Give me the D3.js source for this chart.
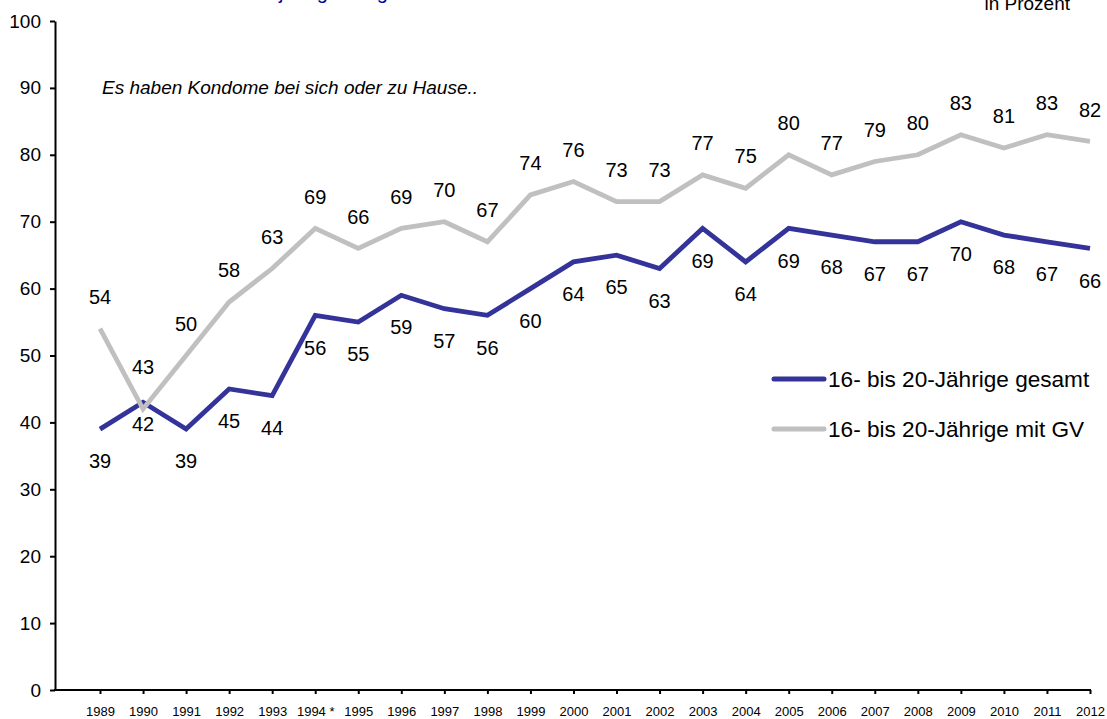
<!DOCTYPE html>
<html>
<head>
<meta charset="utf-8">
<script src="https://cdn.jsdelivr.net/npm/d3@7"></script>
<style>
  body { margin: 0; background: #fff; }
  svg { display: block; font-family: Arial, "Liberation Sans", sans-serif; }
</style>
</head>
<body>
<svg id="chart" width="1107" height="719"></svg>
<script>
// Kondombesitz 16- bis 20-Jaehrige, 1989-2012
var years = ["1989", "1990", "1991", "1992", "1993", "1994", "1995", "1996", "1997", "1998", "1999", "2000",
             "2001", "2002", "2003", "2004", "2005", "2006", "2007", "2008", "2009", "2010", "2011", "2012"];
var yearLabels = ["1989", "1990", "1991", "1992", "1993", "1994 *", "1995", "1996", "1997", "1998", "1999", "2000",
                  "2001", "2002", "2003", "2004", "2005", "2006", "2007", "2008", "2009", "2010", "2011", "2012"];
var gesamt = [39, 43, 39, 45, 44, 56, 55, 59, 57, 56, 60, 64, 65, 63, 69, 64, 69, 68, 67, 67, 70, 68, 67, 66];
var mitGV  = [54, 42, 50, 58, 63, 69, 66, 69, 70, 67, 74, 76, 73, 73, 77, 75, 80, 77, 79, 80, 83, 81, 83, 82];
var yTicks = [0, 10, 20, 30, 40, 50, 60, 70, 80, 90, 100];

var series = [
  { name: "16- bis 20-Jährige gesamt", values: gesamt, color: "#333399" },
  { name: "16- bis 20-Jährige mit GV", values: mitGV, color: "#c0c0c0" }
];

var svg = d3.select("#chart");

var x = d3.scalePoint().domain(years).range([100, 1090]);
var y = d3.scaleLinear().domain([0, 100]).range([690, 21]);

// title sits above the visible area, only descenders show (as in the original)
var title = svg.append("text")
    .attr("x", 0)
    .attr("y", -1)
    .style("font-size", "20px")
    .style("fill", "#0000a0")
    .text("Kondombesitz bei 16- bis 20-jährigen Jugendlichen");
var jPos = title.node().getStartPositionOfChar(title.text().indexOf("j")).x;
title.attr("x", 279 - jPos);

svg.append("text")
    .attr("x", 1070)
    .attr("y", 10)
    .attr("text-anchor", "end")
    .style("font-size", "19px")
    .style("fill", "#000")
    .text("in Prozent");

svg.append("text")
    .attr("x", 102)
    .attr("y", 94)
    .style("font-size", "19px")
    .style("font-style", "italic")
    .style("fill", "#000")
    .text("Es haben Kondome bei sich oder zu Hause..");

// axes
var yAxis = svg.append("g")
    .attr("transform", "translate(55,0)")
    .call(d3.axisLeft(y).tickValues(yTicks).tickSize(5).tickSizeOuter(0).tickPadding(9));
yAxis.selectAll("text").style("font-size", "19px").style("fill", "#000").attr("font-family", null);
yAxis.select(".domain").attr("stroke-width", 2);
yAxis.selectAll(".tick line").attr("stroke-width", 2);

var xAxis = svg.append("g")
    .attr("transform", "translate(0,690)")
    .call(d3.axisBottom(x).tickFormat(function(d, i) { return yearLabels[i]; }).tickSize(4).tickPadding(13));
xAxis.select(".domain").remove();
xAxis.selectAll("text").style("font-size", "13px").style("fill", "#000").attr("font-family", null);
xAxis.selectAll(".tick line").attr("stroke-width", 2);
svg.append("line")
    .attr("x1", 54).attr("x2", x("2012") + 1)
    .attr("y1", 690).attr("y2", 690)
    .attr("stroke", "#000")
    .attr("stroke-width", 2);

// lines
var line = d3.line()
    .x(function(d, i) { return x(years[i]); })
    .y(function(d) { return y(d); });

svg.selectAll("path.series")
    .data(series)
    .enter().append("path")
    .attr("class", "series")
    .attr("d", function(s) { return line(s.values); })
    .attr("fill", "none")
    .attr("stroke", function(s) { return s.color; })
    .attr("stroke-width", 4.8);

// value labels: gesamt below, mit GV above (1990 swapped)
function labelOffset(si, i) {
  if (years[i] === "1990") return si === 0 ? -36 : 15;
  return si === 0 ? 32 : -32;
}

series.forEach(function(s, si) {
  svg.append("g").selectAll("text")
      .data(s.values)
      .enter().append("text")
      .attr("x", function(d, i) { return x(years[i]); })
      .attr("y", function(d, i) { return y(d) + labelOffset(si, i); })
      .attr("dy", "0.36em")
      .attr("text-anchor", "middle")
      .style("font-size", "20px")
      .style("fill", "#000")
      .text(function(d) { return d; });
});

// legend
var legend = svg.append("g")
    .selectAll("g")
    .data(series)
    .enter().append("g")
    .attr("transform", function(d, i) { return "translate(774," + (379 + i * 50) + ")"; });

legend.append("line")
    .attr("x1", 0).attr("x2", 50)
    .attr("stroke", function(d) { return d.color; })
    .attr("stroke-width", 5)
    .attr("stroke-linecap", "round");

legend.append("text")
    .attr("x", 54)
    .attr("dy", "0.36em")
    .style("font-size", "22.6px")
    .style("fill", "#000")
    .text(function(d) { return d.name; });
</script>
</body>
</html>
